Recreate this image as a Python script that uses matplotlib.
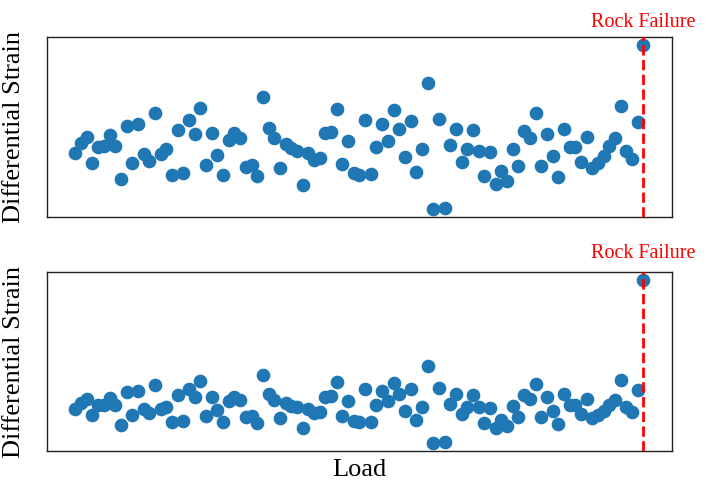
import matplotlib.pyplot as plt
import numpy as np

# differential strain readings before failure
strain = [0.357, 0.413, 0.443, 0.298, 0.387, 0.394, 0.456, 0.394, 0.209, 0.507,
          0.298, 0.515, 0.350, 0.313, 0.576, 0.350, 0.376, 0.233, 0.483, 0.243,
          0.539, 0.461, 0.609, 0.289, 0.465, 0.344, 0.230, 0.428, 0.465, 0.437,
          0.276, 0.289, 0.224, 0.669, 0.496, 0.437, 0.274, 0.406, 0.381, 0.369,
          0.178, 0.354, 0.317, 0.326, 0.465, 0.474, 0.600, 0.293, 0.424, 0.243,
          0.230, 0.539, 0.239, 0.387, 0.517, 0.424, 0.594, 0.491, 0.331, 0.533,
          0.250, 0.376, 0.746, 0.043, 0.543, 0.048, 0.400, 0.487, 0.307, 0.376,
          0.483, 0.369, 0.224, 0.363, 0.183, 0.257, 0.196, 0.378, 0.283, 0.480,
          0.441, 0.581, 0.280, 0.461, 0.339, 0.220, 0.487, 0.387, 0.391, 0.304,
          0.446, 0.274, 0.302, 0.339, 0.394, 0.437, 0.619, 0.369, 0.322, 0.526]
failure_peaks = [0.956, 1.535]   # last reading, top and bottom panel
label_y = [1.055, 1.08]

FONT = 'Liberation Serif'

fig = plt.figure(figsize=(7.06, 4.9), dpi=100)
ax_top = fig.add_axes([0.0666, 0.557, 0.885, 0.367])
ax_bot = fig.add_axes([0.0666, 0.0796, 0.885, 0.365])

for ax, peak, ly in zip([ax_top, ax_bot], failure_peaks, label_y):
    y = np.array(strain + [peak])
    x = np.arange(len(y))
    ax.scatter(x, y, s=78, color='#1f77b4', zorder=2)
    ax.axvline(x[-1], color='red', linestyle='--', linewidth=2, zorder=3)
    ax.text(x[-1], ly, 'Rock Failure', color='red', fontsize=14.5, family=FONT,
            ha='center', va='baseline', transform=ax.get_xaxis_transform())
    ax.set_xticks([])
    ax.set_yticks([])
    for sp in ax.spines.values():
        sp.set_linewidth(1.0)
        sp.set_color('#222222')
    ax.set_ylabel('Differential Strain', fontsize=19, family=FONT)
    ax.yaxis.set_label_coords(-0.036, 0.5)

ax_bot.set_xlabel('Load', fontsize=19, family=FONT, labelpad=6)

fig.savefig('out.png', dpi=100)
